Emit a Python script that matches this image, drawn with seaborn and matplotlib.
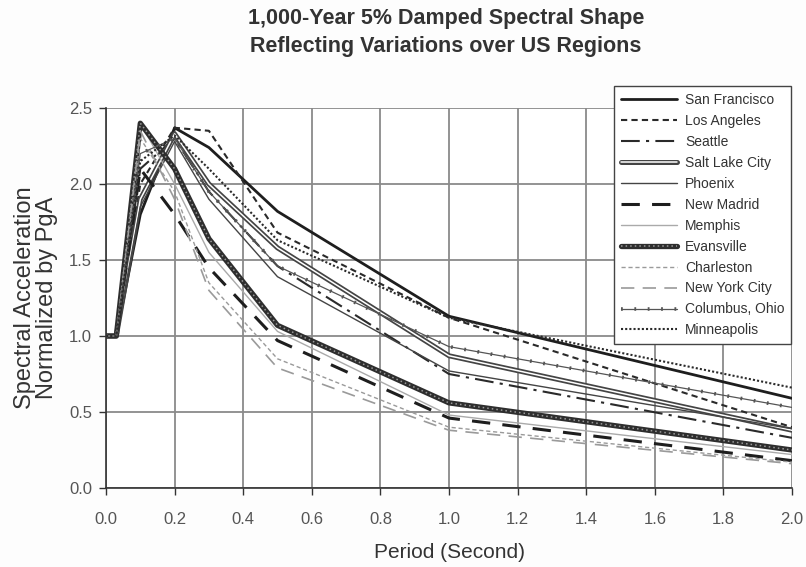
import matplotlib
matplotlib.use("Agg")
import matplotlib.pyplot as plt
import seaborn as sns
from matplotlib.legend_handler import HandlerTuple

periods = [0.0, 0.03, 0.1, 0.2, 0.3, 0.5, 1.0, 2.0]

san_francisco = [1.0, 1.0, 1.80, 2.37, 2.24, 1.82, 1.13, 0.59]
los_angeles = [1.0, 1.0, 2.00, 2.37, 2.35, 1.68, 1.12, 0.40]
seattle = [1.0, 1.0, 2.10, 2.30, 1.95, 1.46, 0.75, 0.33]
salt_lake_city = [1.0, 1.0, 1.90, 2.33, 2.00, 1.58, 0.87, 0.38]
phoenix = [1.0, 1.0, 1.85, 2.28, 1.90, 1.39, 0.77, 0.39]
new_madrid = [1.0, 1.0, 2.10, 1.80, 1.45, 0.97, 0.46, 0.18]
memphis = [1.0, 1.0, 2.40, 2.00, 1.55, 1.03, 0.48, 0.22]
evansville = [1.0, 1.0, 2.40, 2.10, 1.64, 1.07, 0.56, 0.25]
charleston = [1.0, 1.0, 2.30, 1.95, 1.35, 0.85, 0.40, 0.17]
new_york_city = [1.0, 1.0, 2.35, 1.90, 1.30, 0.79, 0.38, 0.16]
columbus_ohio = [1.0, 1.0, 2.20, 2.30, 1.95, 1.46, 0.93, 0.53]
minneapolis = [1.0, 1.0, 2.15, 2.32, 2.10, 1.63, 1.12, 0.66]

cities = ["San Francisco", "Los Angeles", "Seattle", "Salt Lake City", "Phoenix",
          "New Madrid", "Memphis", "Evansville", "Charleston", "New York City",
          "Columbus, Ohio", "Minneapolis"]
values = [san_francisco, los_angeles, seattle, salt_lake_city, phoenix, new_madrid,
          memphis, evansville, charleston, new_york_city, columbus_ohio, minneapolis]

x_ticks = [0.0, 0.2, 0.4, 0.6, 0.8, 1.0, 1.2, 1.4, 1.6, 1.8, 2.0]
y_ticks = [0.0, 0.5, 1.0, 1.5, 2.0, 2.5]

sns.set_style("white")
plt.rcParams['font.family'] = ['Liberation Sans', 'DejaVu Sans']

fig = plt.figure(figsize=(8.06, 5.67), dpi=100)
fig.patch.set_facecolor("#fdfdfd")
ax = fig.add_axes([106/806, 1-488/567, (792-106)/806, (488-108)/567])
ax.set_facecolor("white")

styles = {
    "San Francisco": dict(color="#1e1e1e", lw=2.0, ls="-"),
    "Los Angeles": dict(color="#2a2a2a", lw=1.5, ls=(0, (3, 2))),
    "Seattle": dict(color="#2a2a2a", lw=1.5, ls=(0, (9, 3, 1.5, 3))),
    "Phoenix": dict(color="#444444", lw=1.0, ls="-"),
    "New Madrid": dict(color="#1e1e1e", lw=2.2, ls=(0, (6, 4))),
    "Memphis": dict(color="#aaaaaa", lw=1.0, ls="-"),
    "Charleston": dict(color="#9a9a9a", lw=1.0, ls=(0, (3, 2))),
    "New York City": dict(color="#9a9a9a", lw=1.2, ls=(0, (8, 5))),
    "Minneapolis": dict(color="#2a2a2a", lw=1.5, ls=(0, (1, 1))),
}

# two-layer styles: (outer color, outer width, outer style, inner color, inner width, inner style)
layered = {
    "Salt Lake City": ("#444444", 3.6, "-", "white", 1.1, "-"),
    "Evansville": ("#2e2e2e", 3.8, "-", "#9a9a9a", 1.1, (0, (1, 2))),
    "Columbus, Ohio": ("#555555", 0.9, "-", "#555555", 2.6, (0, (0.5, 3.2))),
}

handles = []
for city, vals in zip(cities, values):
    if city in layered:
        oc, ow, ols, ic, iw, ils = layered[city]
        sns.lineplot(x=periods, y=vals, ax=ax, color=oc, linewidth=ow,
                     linestyle=ols, legend=False, estimator=None)
        l1 = ax.lines[-1]
        sns.lineplot(x=periods, y=vals, ax=ax, color=ic, linewidth=iw,
                     linestyle=ils, legend=False, estimator=None)
        l2 = ax.lines[-1]
        l2.set_dash_capstyle("butt")
        handles.append((l1, l2))
    else:
        st = styles[city]
        sns.lineplot(x=periods, y=vals, ax=ax, color=st["color"], linewidth=st["lw"],
                     linestyle=st["ls"], legend=False, estimator=None)
        handles.append(ax.lines[-1])

ax.set_xlim(0, 2.0)
ax.set_ylim(0, 2.5)
ax.set_xticks(x_ticks)
ax.set_xticklabels([f"{t:.1f}" for t in x_ticks])
ax.set_yticks(y_ticks)
ax.set_yticklabels([f"{t:.1f}" for t in y_ticks])
ax.grid(True, color="#8a8a8a", lw=1.3)
ax.set_axisbelow(True)
for s in ["top", "right"]:
    ax.spines[s].set_visible(False)
for s in ["left", "bottom"]:
    ax.spines[s].set_color("#333333")
    ax.spines[s].set_linewidth(1.2)
ax.tick_params(axis="x", direction="out", length=5, width=1.0,
               color="#333333", labelsize=12, labelcolor="#555555", pad=12, bottom=True)
ax.tick_params(axis="y", direction="out", length=5, width=1.0,
               color="#333333", labelsize=12, labelcolor="#555555", pad=5, left=True)

ax.set_xlabel("Period (Second)", fontsize=15, color="#333333", labelpad=12)
ax.set_ylabel("Spectral Acceleration\nNormalized by PgA", fontsize=17, color="#333333",
              labelpad=8, linespacing=1.0)

fig.text(0.553, 0.986, "1,000-Year 5% Damped Spectral Shape\nReflecting Variations over US Regions",
         ha="center", va="top", fontsize=15.5, fontweight="bold", color="#333333",
         family=["Liberation Sans Narrow", "Liberation Sans", "DejaVu Sans"], linespacing=1.45)

hmap = {tuple: HandlerTuple(ndivide=1, pad=0)}
leg = fig.legend(handles, cities, loc="upper left", bbox_to_anchor=(614/806, 1-86/567),
                 frameon=True, fancybox=False, fontsize=10, handlelength=4.0,
                 handletextpad=0.6, labelspacing=0.5, borderpad=0.5,
                 handler_map=hmap, borderaxespad=0)
leg.get_frame().set_edgecolor("#444444")
leg.get_frame().set_linewidth(1.0)
leg.get_frame().set_facecolor("white")
leg.get_frame().set_alpha(1.0)
for t in leg.get_texts():
    t.set_color("#333333")

fig.savefig("out.png", dpi=100, facecolor=fig.get_facecolor())
